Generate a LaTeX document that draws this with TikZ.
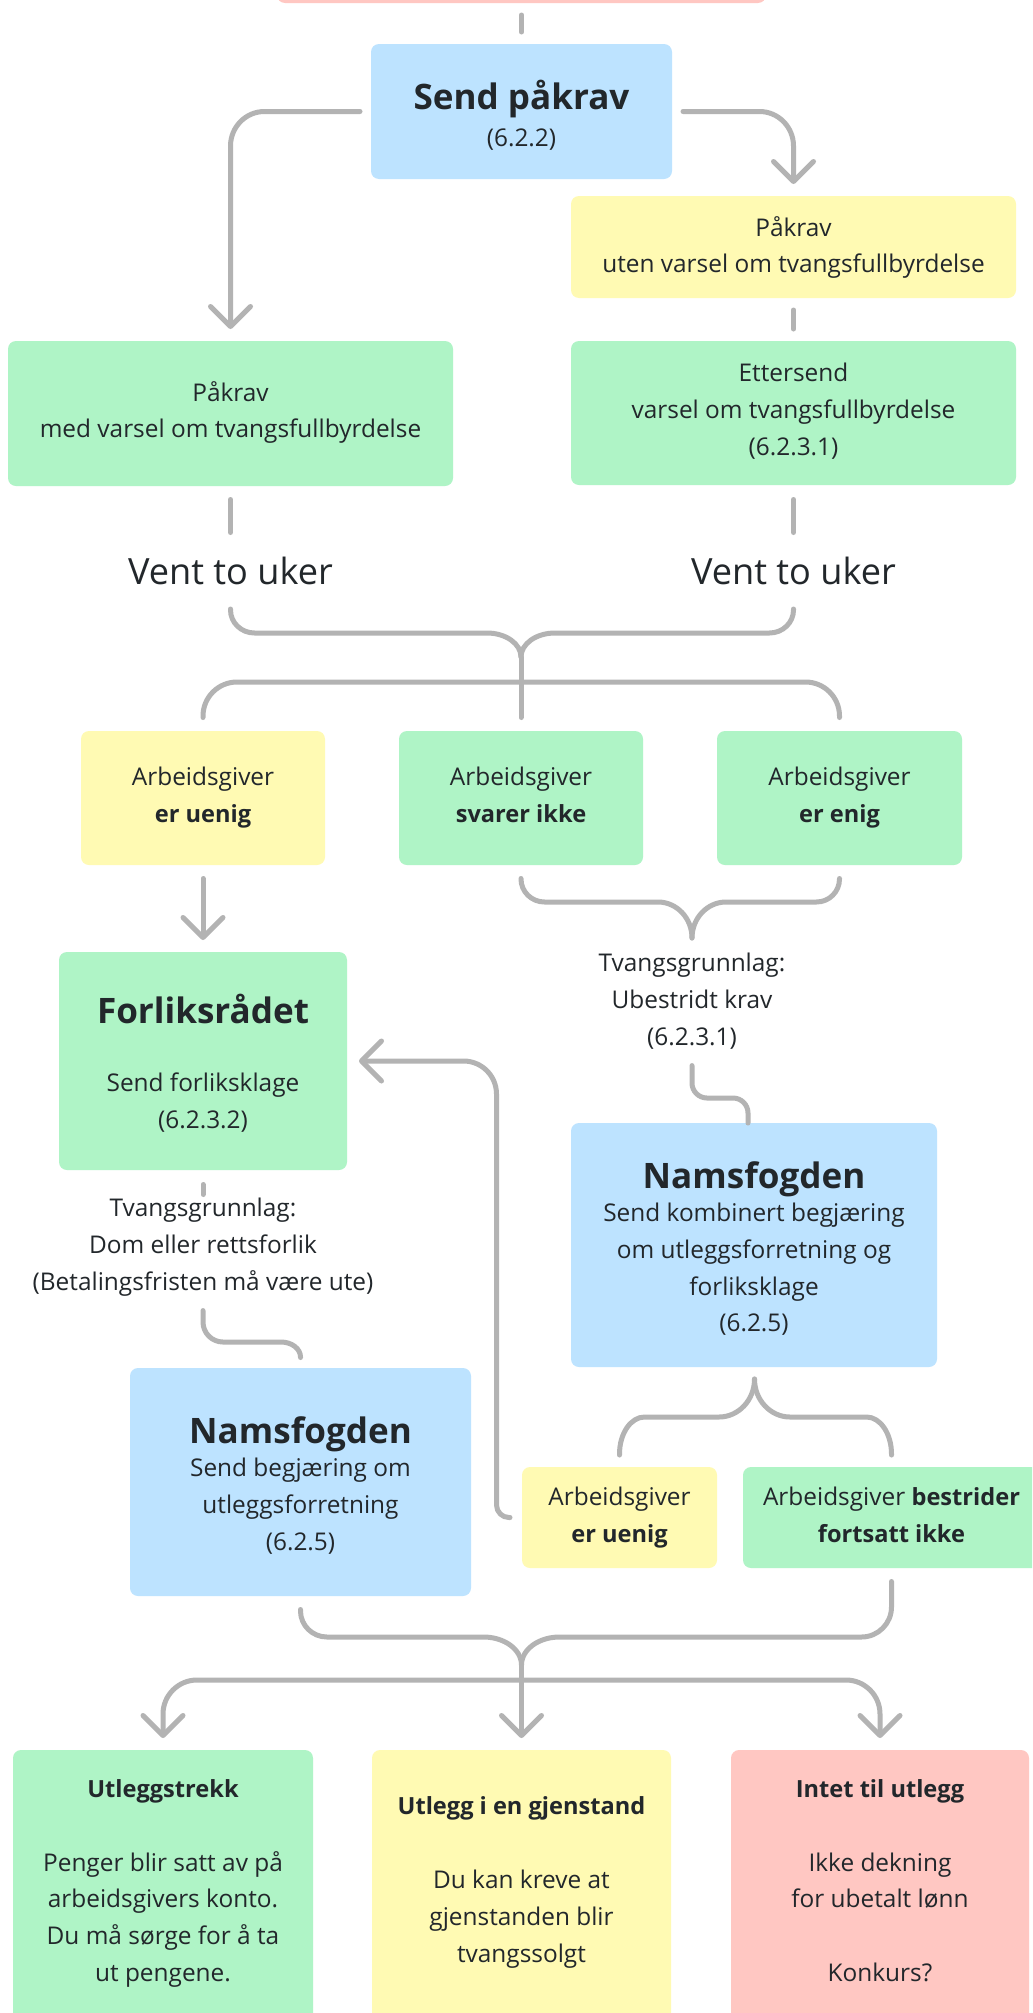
\documentclass[tikz,border=0pt]{standalone}
\usepackage{fontspec}
\setmainfont{Open Sans}
\usetikzlibrary{arrows.meta,calc}
\definecolor{bluec}{HTML}{BDE3FF}
\definecolor{greenc}{HTML}{AFF4C6}
\definecolor{yellowc}{HTML}{FFFAB3}
\definecolor{pinkc}{HTML}{FFC7C2}
\definecolor{linec}{HTML}{B3B3B3}
\definecolor{ink}{HTML}{22272B}
\newcommand\bodyfont{\fontsize{18.3}{27.6}\selectfont}
\newcommand\titlefont{\fontsize{26.3}{30}\selectfont\bfseries}
\newcommand\ventfont{\fontsize{27.1}{32}\selectfont}
\newcommand\B[1]{{\fontsize{17.7}{27.6}\selectfont\bfseries #1}}
\newcommand\pbox[6]{%
  \pgfmathsetmacro\pbcx{(#2+#4)/2}%
  \pgfmathsetmacro\pbcy{(#3+#5)/2}%
  \pgfmathsetmacro\pbw{(#4-#2)*0.75}%
  \pgfmathsetmacro\pbh{(#5-#3)*0.75}%
  \node[card, fill=#6, minimum width=\pbw pt, minimum height=\pbh pt] (#1) at (\pbcx,\pbcy) {};%
}
\tikzset{
 card/.style={draw=none, rounded corners=6pt, inner sep=0pt, outer sep=0pt},
 txt/.style={align=center, font=\bodyfont, text=ink, inner sep=0pt, outer sep=0pt,
   execute at begin node=\strut, execute at end node=\strut},
 ttl/.style={font=\titlefont, text=ink, inner sep=0pt, anchor=base},
 vent/.style={font=\ventfont, text=ink, inner sep=0pt, anchor=base},
 conn/.style={draw=linec, line width=3.75pt, line cap=round, line join=round},
 arr/.style={-{Straight Barb[length=15pt,width=30pt,line cap=round,line join=round]}},
 turn/.style={to path={.. controls ($(\tikztostart)!0.552!#1$) and ($(\tikztotarget)!0.552!#1$) .. (\tikztotarget)}}
}
\begin{document}
\begin{tikzpicture}[x=0.75pt, y=-0.75pt]
\useasboundingbox (0,0) rectangle (1032,2013);
\clip (0,0) rectangle (1032,2013);
\fill[white] (0,0) rectangle (1032,2013);

% boxes
\pbox{top}{277}{-60}{766}{3}{pinkc}
\pbox{pakrav}{371}{44}{672}{179}{bluec}
\pbox{uten}{571}{196}{1016}{298}{yellowc}
\pbox{med}{8}{341}{453}{486}{greenc}
\pbox{etter}{571}{341}{1016}{485}{greenc}
\pbox{uenig}{81}{731}{325}{865}{yellowc}
\pbox{svarer}{399}{731}{643}{865}{greenc}
\pbox{enig}{717}{731}{962}{865}{greenc}
\pbox{forlik}{59}{952}{347}{1170}{greenc}
\pbox{namsR}{571}{1123}{937}{1367}{bluec}
\pbox{namsL}{130}{1368}{471}{1596}{bluec}
\pbox{uenigB}{522}{1467}{717}{1568}{yellowc}
\pbox{bestr}{743}{1467}{1040}{1568}{greenc}
\pbox{utl}{13}{1750}{313}{2025}{greenc}
\pbox{gjen}{372}{1750}{671}{2025}{yellowc}
\pbox{intet}{731}{1750}{1029}{2025}{pinkc}

% texts
\node[ttl] (pakravT) at (521.5,109) {Send påkrav};
\node[txt] (pakravS) at (521.5,139) {(6.2.2)};
\node[txt] (utenT) at (793.5,250) {Påkrav\\uten varsel om tvangsfullbyrdelse};
\node[txt] (medT) at (230.5,415) {Påkrav\\med varsel om tvangsfullbyrdelse};
\node[txt] (etterT) at (793.5,415) {Ettersend\\varsel om tvangsfullbyrdelse\\(6.2.3.1)};
\node[vent] (vent1) at (230.5,584) {Vent to uker};
\node[vent] (vent2) at (793.5,584) {Vent to uker};
\node[txt] (uenigT) at (203,800) {Arbeidsgiver\\\B{er uenig}};
\node[txt] (svarerT) at (521,800) {Arbeidsgiver\\\B{svarer ikke}};
\node[txt] (enigT) at (839.5,800) {Arbeidsgiver\\\B{er enig}};
\node[txt] (tvang1) at (692,1005) {Tvangsgrunnlag:\\Ubestridt krav\\(6.2.3.1)};
\node[ttl] (forlikT) at (203,1023) {Forliksrådet};
\node[txt] (forlikS) at (203,1106.5) {Send forliksklage\\(6.2.3.2)};
\node[txt] (tvang2) at (203,1250) {Tvangsgrunnlag:\\Dom eller rettsforlik\\(Betalingsfristen må være ute)};
\node[ttl] (namsRT) at (754,1188) {Namsfogden};
\node[txt] (namsRS) at (754,1273) {Send kombinert begjæring\\om utleggsforretning og\\forliksklage\\(6.2.5)};
\node[ttl] (namsLT) at (300.5,1443) {Namsfogden};
\node[txt] (namsLS) at (300.5,1510) {Send begjæring om\\utleggsforretning\\(6.2.5)};
\node[txt] (uenigBT) at (619.5,1520) {Arbeidsgiver\\\B{er uenig}};
\node[txt] (bestrT) at (891.5,1520) {Arbeidsgiver \B{bestrider}\\\B{fortsatt ikke}};
\node[txt] (utlT) at (163,1886) {\B{Utleggstrekk}\\[27.6pt]Penger blir satt av på\\arbeidsgivers konto.\\Du må sørge for å ta\\ut pengene.};
\node[txt] (gjenT) at (521.5,1885) {\B{Utlegg i en gjenstand}\\[27.6pt]Du kan kreve at\\gjenstanden blir\\tvangssolgt};
\node[txt] (intetT) at (880,1886) {\B{Intet til utlegg}\\[27.6pt]Ikke dekning\\for ubetalt lønn\\[27.6pt]Konkurs?};

% connectors
\coordinate (cuspA) at (521,657);
\coordinate (cuspB) at (692,938);
\coordinate (cuspC) at (754.5,1379);
\coordinate (cuspD) at (521.5,1665);
\coordinate (hub) at (521.5,1680);

\draw[conn] ($(top.south)+(0,12)$) -- ($(pakrav.north)+(0,-12)$);
\draw[conn,arr] ($(pakrav.west)+(-11,0)$) -- (264.5,111.5) to[turn={(230.5,111.5)}] (230.5,146) -- ($(med.north)+(0,-12)$);
\draw[conn,arr] ($(pakrav.east)+(11,0)$) -- (759.5,111.5) to[turn={(793.5,111.5)}] (793.5,146) -- ($(uten.north)+(0,-12)$);
\draw[conn] ($(uten.south)+(0,12)$) -- ($(etter.north)+(0,-12)$);
\draw[conn] ($(med.south)+(0,13.5)$) -- ++(0,33);
\draw[conn] ($(etter.south)+(0,14.5)$) -- ++(0,33);

\draw[conn] ($(vent1.base)+(0,25)$) -- (230.5,610) to[turn={(230.5,633)}] (254.5,633) -- (487,633) to[turn={(521,633)}] (cuspA);
\draw[conn] ($(vent2.base)+(0,25)$) -- (793.5,610) to[turn={(793.5,633)}] (769.5,633) -- (555,633) to[turn={(521,633)}] (cuspA);
\draw[conn] (cuspA) -- ($(svarer.north)+(0,-13.5)$);
\draw[conn] ($(uenig.north)+(0,-13.5)$) -- (203,716) to[turn={(203,682)}] (237,682) -- (805.5,682) to[turn={(839.5,682)}] (839.5,716) -- ($(enig.north)+(0,-13.5)$);

\draw[conn,arr] ($(uenig.south)+(0,13.5)$) -- ($(forlik.north)+(0,-12)$);

\draw[conn] ($(svarer.south)+(0,13.5)$) -- (521,879) to[turn={(521,902)}] (544.5,902) -- (658,902) to[turn={(692,902)}] (cuspB);
\draw[conn] ($(enig.south)+(0,13.5)$) -- (839.5,879) to[turn={(839.5,902)}] (816.5,902) -- (726,902) to[turn={(692,902)}] (cuspB);

\draw[conn] ($(tvang1.south)+(0,9)$) -- (692,1083) to[turn={(692,1098)}] (707,1098) -- (733,1098) to[turn={(748,1098)}] (748,1113) -- ($(namsR.north)+(-6,0)$);

\draw[conn] ($(forlik.south)+(0,14.5)$) -- ++(0,10);
\draw[conn] ($(tvang2.south)+(0,9)$) -- (203,1322) to[turn={(203,1342)}] (223,1342) -- (281,1342) to[turn={(300.5,1342)}] (300.5,1357) -- ($(namsL.north)+(0,-10.5)$);

\draw[conn,arr] ($(uenigB.west)+(-12,0)$) -- (509,1517.5) to[turn={(496.5,1517.5)}] (496.5,1505) -- (496.5,1094) to[turn={(496.5,1061)}] (463.5,1061) -- ($(forlik.east)+(12,0)$);

\draw[conn] ($(uenigB.north)+(0,-12)$) -- (619.5,1454) to[turn={(619.5,1417)}] (644.5,1417) -- (719,1417) to[turn={(754.5,1417)}] (cuspC);
\draw[conn] ($(bestr.north)+(0,-12)$) -- (891.5,1454) to[turn={(891.5,1417)}] (866.5,1417) -- (790,1417) to[turn={(754.5,1417)}] (cuspC);

\draw[conn] ($(namsL.south)+(0,13.5)$) -- (300.5,1611) to[turn={(300.5,1637)}] (327,1637) -- (483.5,1637) to[turn={(521.5,1637)}] (cuspD);
\draw[conn] ($(bestr.south)+(0,13.5)$) -- (891.5,1607) to[turn={(891.5,1637)}] (861.5,1637) -- (559.5,1637) to[turn={(521.5,1637)}] (cuspD);
\draw[conn,arr] (cuspD) -- ($(gjen.north)+(0,-12)$);
\draw[conn,arr] (hub) -- (197,1680) to[turn={(163,1680)}] (163,1714) -- ($(utl.north)+(0,-12)$);
\draw[conn,arr] (hub) -- (846,1680) to[turn={(880,1680)}] (880,1714) -- ($(intet.north)+(0,-12)$);
\end{tikzpicture}
\end{document}
